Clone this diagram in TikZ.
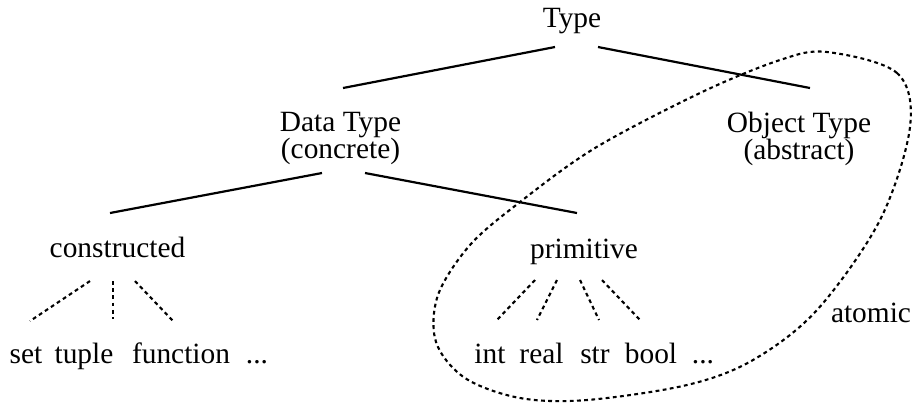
\documentclass[tikz,border=0pt]{standalone}
\usepackage{fontspec}
\setmainfont{Liberation Serif}
\usetikzlibrary{calc}

\begin{document}
\begin{tikzpicture}[x=0.5pt, y=-0.5pt,
  lbl/.style={inner sep=0pt, anchor=base, align=center, font={\fontsize{14.7}{13.5}\selectfont\lineskiplimit=-20pt}},
  branch/.style={line width=1.1pt, black},
  fan/.style={line width=1.05pt, dash pattern=on 1.9pt off 1.7pt},
  hull/.style={line width=1.05pt, dash pattern=on 1.9pt off 1.7pt}
]
  \useasboundingbox (0,0) rectangle (914,404);

  \node[lbl] (type) at (572,27) {Type};
  \node[lbl] (data) at (340.5,158.5) {Data Type\\(concrete)};
  \node[lbl] (obj) at (799,159) {Object Type\\(abstract)};
  \node[lbl] (con) at (117.5,257) {constructed};
  \node[lbl] (prim) at (584,258) {primitive};
  \node[lbl] (atomic) at (871,322) {atomic};

  \node[lbl] (set) at (26,363) {set};
  \node[lbl] (tuple) at (84,363) {tuple};
  \node[lbl] (func) at (181,363) {function};
  \node[lbl] (cdots) at (257,363) {...};
  \node[lbl] (int) at (490,363) {int};
  \node[lbl] (real) at (541.5,363) {real};
  \node[lbl] (str) at (595,363) {str};
  \node[lbl] (bool) at (651,363) {bool};
  \node[lbl] (pdots) at (703,363) {...};

  \draw[branch] ($(type.base)+(-17,20)$) -- ($(data.base)+(2.5,-70.5)$);
  \draw[branch] ($(type.base)+(26,20)$) -- ($(obj.base)+(11,-71)$);
  \draw[branch] ($(data.base)+(-18.5,14.5)$) -- ($(con.base)+(-7.5,-44)$);
  \draw[branch] ($(data.base)+(24.5,14.5)$) -- ($(prim.base)+(-7,-45)$);

  \draw[fan] ($(con.base)+(-27.5,24)$) -- ($(set.base)+(4,-42)$);
  \draw[fan] ($(con.base)+(-4.5,24)$) -- ($(tuple.base)+(29,-44)$);
  \draw[fan] ($(con.base)+(17.5,24)$) -- ($(func.base)+(-8,-42)$);

  \draw[fan] ($(prim.base)+(-49,22)$) -- ($(int.base)+(7,-43)$);
  \draw[fan] ($(prim.base)+(-27,22)$) -- ($(real.base)+(-4.5,-43)$);
  \draw[fan] ($(prim.base)+(-4,22)$) -- ($(str.base)+(4,-43)$);
  \draw[fan] ($(prim.base)+(18,22)$) -- ($(bool.base)+(-11,-43)$);

  \draw[hull] plot[smooth cycle, tension=0.55] coordinates {
    (827,52) (897,73) (910,127) (880,220) (817,310) (753,360) (687,385)
    (587,400) (520,398) (465,378) (436,342) (438,295) (470,245) (520,202)
    (595,148) (700,93) (780,60)};
\end{tikzpicture}
\end{document}
